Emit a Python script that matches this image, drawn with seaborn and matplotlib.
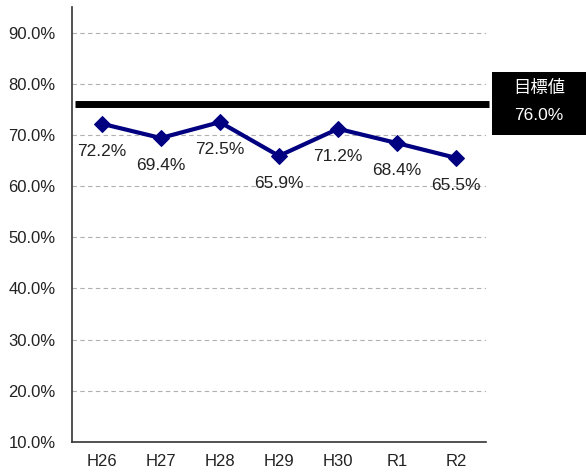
import matplotlib
matplotlib.use("Agg")
import matplotlib.pyplot as plt
import seaborn as sns
import pandas as pd
import numpy as np
from matplotlib.patches import Rectangle

years = ["H26", "H27", "H28", "H29", "H30", "R1", "R2"]
rates = [72.2, 69.4, 72.5, 65.9, 71.2, 68.4, 65.5]
target = 76.0
target_label = "目標値"

sns.set_style("white")
plt.rcParams['font.family'] = ['Liberation Sans', 'Noto Sans CJK JP', 'DejaVu Sans']

df = pd.DataFrame({"idx": range(len(years)), "year": years, "rate": rates})

fig = plt.figure(figsize=(5.86, 4.72), dpi=100)
ax = fig.add_axes([0.123, 0.064, 0.706, 0.921])

# gridlines
for v in range(20, 100, 10):
    ax.axhline(v, color="#b0b0b0", linestyle=(0, (4, 3)), linewidth=0.8, zorder=0)

sns.lineplot(data=df, x="idx", y="rate", color="#000080", linewidth=3,
             marker="D", markersize=8, markeredgecolor="#000080", ax=ax, zorder=3)

for i, r in enumerate(rates):
    ax.text(i, r - 5.4, f"{r:.1f}%", ha="center", va="center", fontsize=12.5, color="#222222")

# target line extending to the box
ax.plot([-0.45, 6.55], [target, target], color="black", linewidth=5, clip_on=False, zorder=4,
        solid_capstyle="butt")
fig.patches.append(Rectangle((492 / 586, 1 - 135 / 472), 94 / 586, 63 / 472,
                             transform=fig.transFigure, facecolor="black", edgecolor="none"))
fig.text(539 / 586, 1 - 88 / 472, target_label, color="white", ha="center", va="center", fontsize=12.5)
fig.text(539 / 586, 1 - 116 / 472, f"{target:.1f}%", color="white", ha="center", va="center", fontsize=12.5)

ax.set_xlim(-0.5, 6.5)
ax.set_ylim(10, 95)
ax.set_yticks(range(10, 100, 10))
ax.set_yticklabels([f"{v:.1f}%" for v in range(10, 100, 10)], fontsize=12, color="#222222")
ax.set_xticks(range(len(years)))
ax.set_xticklabels(years, fontsize=12, color="#222222")
ax.set_xticks(np.arange(-0.5, 7, 1), minor=True)
ax.tick_params(axis="x", which="major", length=0, pad=9)
ax.tick_params(axis="x", which="minor", length=5, width=1, color="#333333", direction="out")
ax.tick_params(axis="y", length=0, pad=12)
ax.set_xlabel("")
ax.set_ylabel("")
sns.despine(ax=ax)
for s in ["left", "bottom"]:
    ax.spines[s].set_color("#333333")
    ax.spines[s].set_linewidth(1.2)

fig.savefig("out.png", dpi=100)
